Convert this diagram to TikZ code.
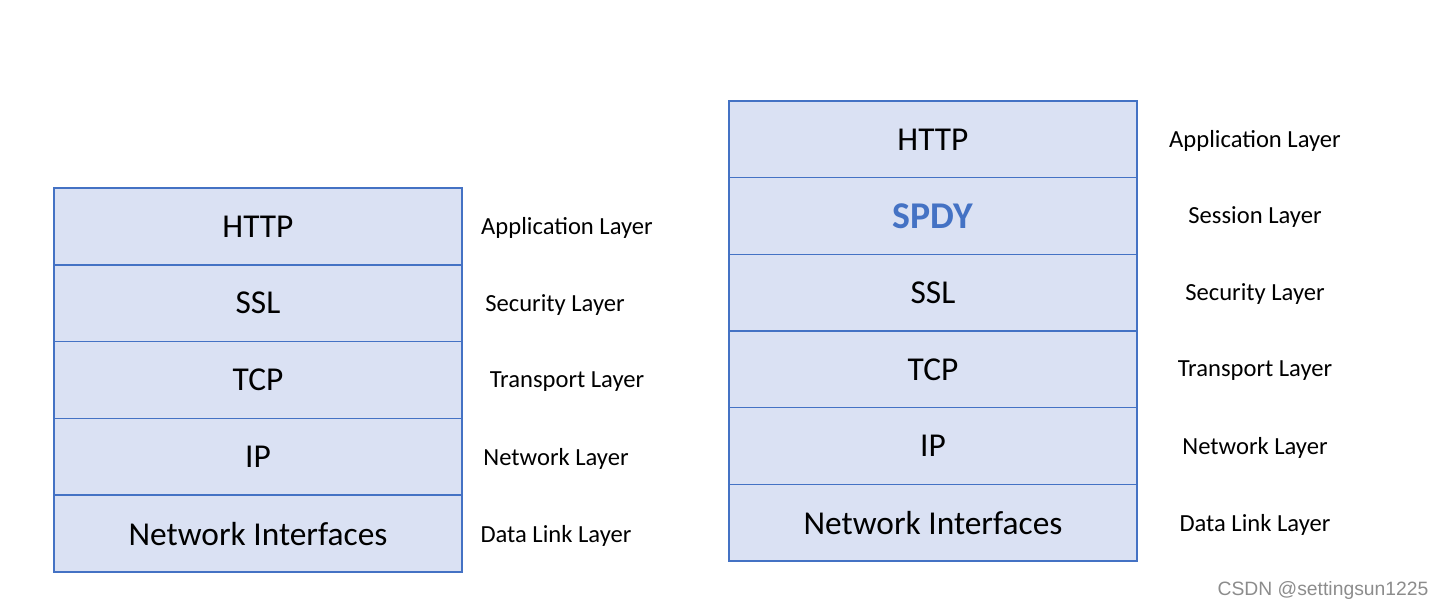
\documentclass[tikz,border=0pt]{standalone}
\usepackage{fontspec}
\setmainfont{Carlito}
\newfontfamily\wmfont{Liberation Sans}
\usepackage{tikz}
\usetikzlibrary{backgrounds}
\definecolor{layerfill}{HTML}{DAE1F3}
\definecolor{layerline}{HTML}{4472C4}
\tikzset{
  layerbox/.style={draw=layerline, line width=0.85pt, minimum width=8.16cm,
    minimum height=1.536cm, inner sep=0pt, font=\fontsize{19}{23}\selectfont},
  layername/.style={inner sep=0pt, font=\fontsize{14}{17}\selectfont},
}
\begin{document}
\begin{tikzpicture}[x=0.02cm, y=-0.02cm]
        \useasboundingbox (0, 0) rectangle (1443, 610);
        % left stack
        \node[layerbox] (lhttp) at (258, 226.4) {HTTP};
        \node[layerbox] (lssl) at (258, 303.2) {SSL};
        \node[layerbox] (ltcp) at (258, 380) {TCP};
        \node[layerbox] (lip) at (258, 456.8) {IP};
        \node[layerbox] (lnet) at (258, 533.6) {Network Interfaces};
        % left labels
        \node[layername] (lapp) at (567, 228) {Application Layer};
        \node[layername] (lsec) at (555, 305) {Security Layer};
        \node[layername] (ltra) at (567, 382) {Transport Layer};
        \node[layername] (lnw) at (556, 459) {Network Layer};
        \node[layername] (ldl) at (556, 536) {Data Link Layer};
        % right stack
        \node[layerbox, minimum height=1.533cm] (rhttp) at (933, 139.3) {HTTP};
        \node[layerbox, minimum height=1.533cm, text=layerline, font=\fontsize{21.5}{25}\selectfont\bfseries] (rspdy) at (933, 216) {SPDY};
        \node[layerbox, minimum height=1.533cm] (rssl) at (933, 292.7) {SSL};
        \node[layerbox, minimum height=1.533cm] (rtcp) at (933, 369.3) {TCP};
        \node[layerbox, minimum height=1.533cm] (rip) at (933, 446) {IP};
        \node[layerbox, minimum height=1.533cm] (rnet) at (933, 522.7) {Network Interfaces};
        % right labels
        \node[layername] (rapp) at (1255, 141) {Application Layer};
        \node[layername] (rses) at (1255, 217) {Session Layer};
        \node[layername] (rsec) at (1255, 294) {Security Layer};
        \node[layername] (rtra) at (1255, 371) {Transport Layer};
        \node[layername] (rnw) at (1255, 448) {Network Layer};
        \node[layername] (rdl) at (1255, 525) {Data Link Layer};
        % fills
        \begin{pgfonlayer}{background}
          \fill[layerfill] (lhttp.north west) rectangle (lnet.south east);
          \fill[layerfill] (rhttp.north west) rectangle (rnet.south east);
        \end{pgfonlayer}
        % watermark
        \node[inner sep=0pt, text=black!45, font=\wmfont\fontsize{11}{13}\selectfont] (mark) at (1323, 590) {CSDN @settingsun1225};
\end{tikzpicture}
\end{document}
